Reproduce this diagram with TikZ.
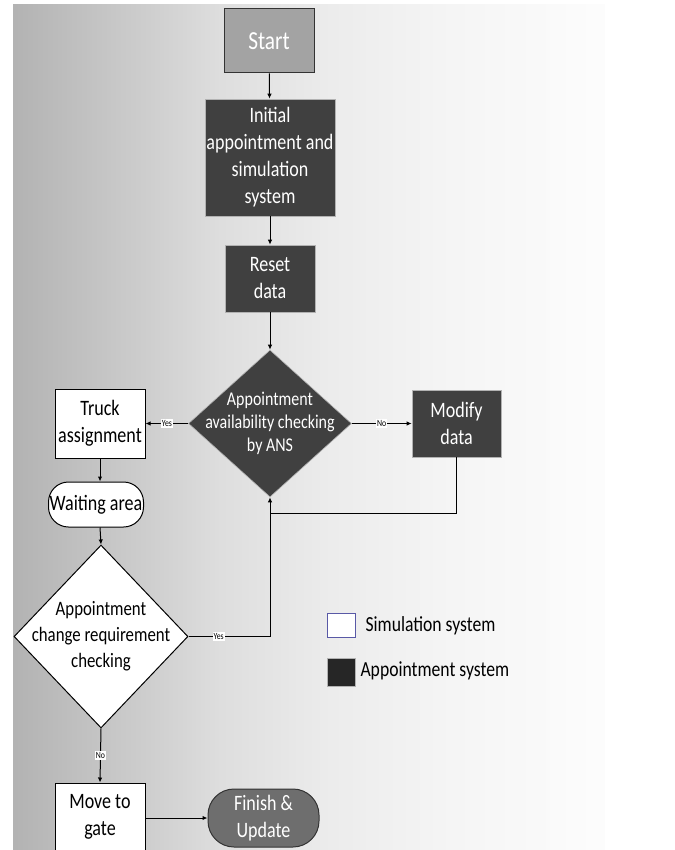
\documentclass[tikz,border=0pt]{standalone}
\usepackage{fontspec}
\setmainfont{Carlito}[FakeStretch=0.82]
\usetikzlibrary{shapes.geometric,arrows.meta}
\definecolor{darkbox}{HTML}{404040}
\definecolor{startgray}{HTML}{A3A3A3}
\definecolor{finishgray}{HTML}{6E6E6E}
\definecolor{legendblack}{HTML}{262626}
\pgfdeclarehorizontalshading{panelfade}{100bp}{rgb(0bp)=(.70,.70,.70); rgb(25bp)=(.70,.70,.70); rgb(36.6bp)=(.81,.81,.81); rgb(42.5bp)=(.87,.87,.87); rgb(51.8bp)=(.925,.925,.925); rgb(61.9bp)=(.96,.96,.96); rgb(75bp)=(.99,.99,.99); rgb(100bp)=(.99,.99,.99)}
\tikzset{
	proc/.style={draw=black, line width=1pt, fill=white, inner sep=0pt, align=center, font=\fontsize{22}{27}\selectfont},
	appt/.style={proc, draw=gray!60, line width=0.6pt, fill=darkbox, text=white},
	decide/.style={diamond, draw=black, line width=1pt, fill=white, inner sep=0pt},
	yn/.style={fill=white, inner sep=1pt, font=\fontsize{9.5}{10}\selectfont},
	flow/.style={line width=1pt, -{Latex[length=5pt,width=4.5pt]}},
	link/.style={line width=1pt},
}
\begin{document}
\begin{tikzpicture}[x=1pt,y=-1pt]
	\useasboundingbox (0,0) rectangle (674,850);
	\shade[shading=panelfade] (13,5) rectangle (605,850);
	
	\node[proc, fill=startgray, draw=black!80, text=white, minimum width=90pt, minimum height=64pt, font=\fontsize{26}{30}\selectfont] (start) at (269,41) {Start};
	\node[appt, minimum width=130pt, minimum height=117pt] (init) at (270,157.5) {Initial\\appointment and\\simulation\\system};
	\node[appt, minimum width=90pt, minimum height=67pt] (reset) at (270,278.5) {Reset\\data};
	\node[decide, fill=darkbox, draw=gray!60, line width=0.6pt, minimum width=163pt, minimum height=147pt,
		label={[text=white, align=center, font=\fontsize{19.5}{23}\selectfont]center:{Appointment\\availability checking\\by ANS}}] (avail) at (270,423.5) {};
	\node[proc, minimum width=90pt, minimum height=69pt] (truck) at (100,423.5) {Truck\\assignment};
	\node[appt, minimum width=89pt, minimum height=67pt] (modify) at (456.5,423.5) {Modify\\data};
	\node[proc, rounded corners=20pt, minimum width=95pt, minimum height=45pt] (waiting) at (96,504.5) {Waiting area};
	\node[decide, minimum width=174pt, minimum height=183pt,
		label={[align=center, font=\fontsize{20.5}{26}\selectfont]center:{Appointment\\change requirement\\checking}}] (change) at (101,636.5) {};
	\node[proc, minimum width=90pt, minimum height=68pt] (move) at (100,817) {Move to\\gate};
	\node[appt, fill=finishgray, draw=black!80, line width=1pt, rounded corners=26pt, minimum width=111pt, minimum height=58pt] (finish) at (263.5,818) {Finish \&\\Update};
	\coordinate (merge) at (270,513);
	
	\draw[flow] (start) -- (init);
	\draw[flow] (init) -- (reset);
	\draw[flow] (reset) -- (avail);
	\draw[flow] (avail.west) -- node[yn]{Yes} (truck.east);
	\draw[flow] (avail.east) -- node[yn]{No} (modify.west);
	\draw[flow] (truck.south) -- (truck.south |- waiting.north);
	\draw[flow] (truck.south |- waiting.south) -- (change.north);
	\draw[link] (modify.south) |- (merge);
	\draw[link] (change.east) -- node[yn, pos=0.37]{Yes} (change.east -| merge) -- (merge);
	\draw[flow] (merge) -- (avail.south);
	\draw[flow] (change.south) -- node[yn]{No} (move.north);
	\draw[flow] (move.east |- finish.west) -- (finish.west);
	
	\node[draw=gray!70!blue, line width=0.6pt, fill=white, minimum width=28pt, minimum height=24pt, inner sep=0pt] (simkey) at (341,625) {};
	\node[fill=legendblack, draw=gray!60, line width=0.6pt, minimum width=28pt, minimum height=28pt, inner sep=0pt] (appkey) at (341,672) {};
	\node[anchor=west, font=\fontsize{21.5}{24}\selectfont] (simtxt) at (362,626) {Simulation system};
	\node[anchor=west, font=\fontsize{21.5}{24}\selectfont] (apptxt) at (357,671) {Appointment system};
\end{tikzpicture}
\end{document}
